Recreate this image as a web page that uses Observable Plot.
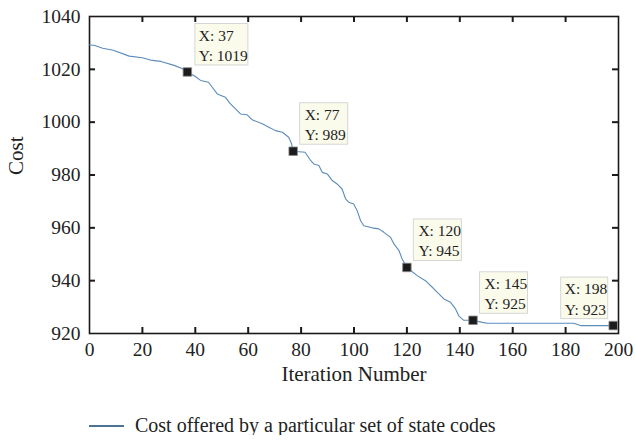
<!DOCTYPE html>
<html>
<head>
<meta charset="utf-8">
<script src="https://cdn.jsdelivr.net/npm/d3@7"></script>
<script src="https://cdn.jsdelivr.net/npm/@observablehq/plot@0.6"></script>
<style>
  html, body { margin: 0; padding: 0; background: #fff; }
  #legend { display: flex; align-items: center; margin-top: 15px; height: 20px;
            font-family: "Liberation Serif", serif; font-size: 20px; color: #222; }
</style>
</head>
<body>
<div id="chart"></div>
<div id="legend"></div>
<script>
// Iteration numbers and cost
const iteration = [0, 2, 5, 9, 15, 20, 23, 27, 32, 35, 37, 40, 42, 45, 46.4, 48.3, 51.4, 53.3, 55.2, 57.1, 59.6, 61.5, 65.3, 67.8, 70.3, 72.9, 75.3, 76.4, 77, 81.5, 83.6, 84.8, 86.7, 88, 89.9, 91.8, 93.6, 95.5, 96.8, 98, 99.9, 101.2, 102.5, 103.7, 106.9, 109.4, 111.3, 113.8, 115.1, 117, 118.2, 120, 123.9, 127, 129.6, 131.5, 134, 136.5, 138.4, 139.6, 141.5, 145, 148.5, 150.4, 183.1, 185.6, 198];
const cost = [1029.3, 1029, 1028, 1027.2, 1025, 1024.4, 1023.5, 1023, 1021.5, 1020.3, 1019, 1017.3, 1015.8, 1015.1, 1013.2, 1010.7, 1009.4, 1006.9, 1005, 1003.1, 1002.8, 1000.9, 999.4, 998.1, 996.8, 996.2, 994.3, 991.8, 989, 988.6, 985.5, 984.2, 983.6, 981, 980.4, 977.9, 976.6, 974.7, 971, 969.7, 969, 966.5, 962.7, 960.8, 960, 959.6, 958.3, 956.4, 953.9, 951.4, 948.2, 945, 941.9, 940, 937.5, 935.6, 933.1, 931.8, 929.3, 926.7, 925, 925, 924.2, 923.9, 923.9, 923, 923];

// Data tips
const tipX = [37, 77, 120, 145, 198];
const tipY = [1019, 989, 945, 925, 923];
const tipSide = ["wide", "right", "right", "right", "left"];

const xTicks = [0, 20, 40, 60, 80, 100, 120, 140, 160, 180, 200];
const yTicks = [920, 940, 960, 980, 1000, 1020, 1040];

const series = iteration.map((x, i) => ({x, y: cost[i]}));
const tips = tipX.map((x, i) => ({x, y: tipY[i], side: tipSide[i]}));

const W = 635, H = 400, mL = 89, mR = 17, mT = 16, mB = 67;
const innerW = W - mL - mR, innerH = H - mT - mB;
const ink = "#1a1a1a";
const lineColor = "#5b8cba";
const font = "Liberation Serif";
const innerXT = xTicks.slice(1, -1), innerYT = yTicks.slice(1, -1);

const boxStyle = {fill: "#fbfbec", stroke: "#d6d6d6", strokeWidth: 1};

const chart = Plot.plot({
  width: W, height: H,
  marginLeft: mL, marginRight: mR, marginTop: mT, marginBottom: mB,
  style: {fontFamily: font, background: "#fff", color: "#222"},
  x: {domain: [0, 200]},
  y: {domain: [920, 1040]},
  marks: [
    // inward ticks on four sides
    Plot.tickX(innerXT, {x: d => d, insetTop: innerH - 6, stroke: ink, strokeWidth: 2}),
    Plot.tickX(innerXT, {x: d => d, insetBottom: innerH - 6, stroke: ink, strokeWidth: 2}),
    Plot.tickY(innerYT, {y: d => d, insetRight: innerW - 6, stroke: ink, strokeWidth: 2}),
    Plot.tickY(innerYT, {y: d => d, insetLeft: innerW - 6, stroke: ink, strokeWidth: 2}),
    Plot.frame({stroke: ink, strokeWidth: 1.6}),
    Plot.axisX({ticks: xTicks, tickSize: 0, tickPadding: 9, fontSize: 19.5, label: null, fill: "#222"}),
    Plot.axisY({ticks: yTicks, tickSize: 0, tickPadding: 9, fontSize: 19.5, label: null, fill: "#222", tickFormat: d => String(d)}),
    Plot.text(["Iteration Number"], {frameAnchor: "bottom", dy: 47, fontSize: 21, fill: "#222"}),
    Plot.text(["Cost"], {frameAnchor: "left", dx: -73, rotate: -90, fontSize: 21, fill: "#222"}),
    Plot.line(series, {x: "x", y: "y", stroke: lineColor, strokeWidth: 1.1}),
    // data tip boxes
    Plot.rect(tips.filter(d => d.side === "wide"), {x1: "x", x2: "x", y1: "y", y2: "y",
      insetLeft: 8, insetRight: -61, insetTop: -48, insetBottom: 6.5, ...boxStyle}),
    Plot.rect(tips.filter(d => d.side === "right"), {x1: "x", x2: "x", y1: "y", y2: "y",
      insetLeft: 7, insetRight: -55, insetTop: -48, insetBottom: 6.5, ...boxStyle}),
    Plot.rect(tips.filter(d => d.side === "left"), {x1: "x", x2: "x", y1: "y", y2: "y",
      insetLeft: -52, insetRight: 5, insetTop: -48, insetBottom: 6.5, ...boxStyle}),
    Plot.text(tips.filter(d => d.side !== "left"), {x: "x", y: "y", text: d => `X: ${d.x}\nY: ${d.y}`,
      textAnchor: "start", lineAnchor: "middle", dx: 11.5, dy: -27.5, fontSize: 15.5, lineHeight: 1.3, fill: "#222"}),
    Plot.text(tips.filter(d => d.side === "left"), {x: "x", y: "y", text: d => `X: ${d.x}\nY: ${d.y}`,
      textAnchor: "start", lineAnchor: "middle", dx: -48.5, dy: -27.5, fontSize: 15.5, lineHeight: 1.3, fill: "#222"}),
    Plot.dot(tips, {x: "x", y: "y", symbol: "square", r: 4.8, fill: "#1c1c1c", stroke: "#8a8a8a", strokeWidth: 0.8})
  ]
});
document.getElementById("chart").appendChild(chart);

// legend below the chart
const legend = document.getElementById("legend");
legend.innerHTML = `<svg width="${mL + 36}" height="20" style="flex:none"><line x1="${mL}" x2="${mL + 35}" y1="11" y2="11" stroke="#4d7394" stroke-width="2"/></svg><span style="margin-left:10px">Cost offered by a particular set of state codes</span>`;
</script>
</body>
</html>
